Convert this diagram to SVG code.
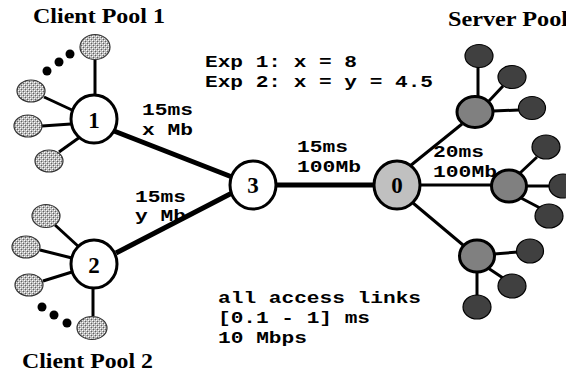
<svg xmlns="http://www.w3.org/2000/svg" width="566" height="375" viewBox="0 0 566 375">
<defs>
<pattern id="hatch" width="4" height="4" patternUnits="userSpaceOnUse">
<rect width="4" height="4" fill="#b4b4b4"/>
<rect x="0" y="0" width="1" height="1" fill="#ffffff"/>
<rect x="2" y="2" width="1" height="1" fill="#ffffff"/>
<rect x="1" y="1" width="1" height="1" fill="#606060"/>
<rect x="3" y="3" width="1" height="1" fill="#606060"/>
<rect x="2" y="0" width="1" height="1" fill="#e0e0e0"/>
<rect x="0" y="2" width="1" height="1" fill="#e0e0e0"/>
</pattern>
<style>
.acc{stroke:#000;stroke-width:3;fill:none}
.core{stroke:#000;stroke-width:5;fill:none}
.node{fill:#fff;stroke:#000;stroke-width:3}
.cli{fill:url(#hatch);stroke:#333;stroke-width:1.2}
.rtr{fill:#808080;stroke:#000;stroke-width:3}
.srv{fill:#404040;stroke:#000;stroke-width:1.2}
.dot{fill:#000}
.num{font-family:"Liberation Serif","Times New Roman",serif;font-weight:bold;font-size:23px;text-anchor:middle}
.title{font-family:"Liberation Serif","Times New Roman",serif;font-weight:bold;font-size:20px}
.mono{font-family:"Liberation Mono","Courier New",monospace;font-weight:bold;font-size:16px}
</style>
</defs>
<g id="connectors">
<line class="core" x1="114" y1="131" x2="232" y2="177"/>
<line class="core" x1="116" y1="253" x2="232" y2="193"/>
<line class="core" x1="276" y1="185" x2="374" y2="185"/>
<line class="acc" x1="95" y1="60" x2="95" y2="96"/>
<line class="acc" x1="44" y1="97" x2="72" y2="110"/>
<line class="acc" x1="42" y1="126" x2="71" y2="124"/>
<line class="acc" x1="59" y1="152" x2="80" y2="137"/>
<line class="acc" x1="55" y1="225" x2="79" y2="247"/>
<line class="acc" x1="40" y1="250" x2="72" y2="258"/>
<line class="acc" x1="43" y1="281" x2="72" y2="272"/>
<line class="acc" x1="93" y1="289" x2="93" y2="316"/>
<line class="acc" x1="410" y1="166" x2="462" y2="124"/>
<line class="acc" x1="419" y1="185" x2="492" y2="185"/>
<line class="acc" x1="413" y1="203" x2="463" y2="245"/>
<line class="acc" x1="478" y1="67" x2="478" y2="97"/>
<line class="acc" x1="489" y1="101" x2="503" y2="86"/>
<line class="acc" x1="493" y1="111" x2="519" y2="110"/>
<line class="acc" x1="520" y1="173" x2="537" y2="157"/>
<line class="acc" x1="526" y1="186" x2="550" y2="186"/>
<line class="acc" x1="521" y1="198" x2="540" y2="208"/>
<line class="acc" x1="494" y1="254" x2="518" y2="252"/>
<line class="acc" x1="488" y1="268" x2="503" y2="278"/>
<line class="acc" x1="477" y1="272" x2="477" y2="296"/>
</g>
<g id="pool1-clients">
<ellipse class="cli" cx="95" cy="47" rx="15" ry="12.5"/>
<ellipse class="cli" cx="31" cy="91" rx="14" ry="11"/>
<ellipse class="cli" cx="28" cy="126" rx="14" ry="11"/>
<ellipse class="cli" cx="49" cy="161" rx="14" ry="11"/>
<circle class="dot" cx="47" cy="71" r="4.5"/>
<circle class="dot" cx="59" cy="62" r="4.5"/>
<circle class="dot" cx="70" cy="54" r="4.5"/>
</g>
<g id="pool2-clients">
<ellipse class="cli" cx="46" cy="216" rx="14" ry="11.5"/>
<ellipse class="cli" cx="26" cy="247" rx="14" ry="11"/>
<ellipse class="cli" cx="29" cy="285" rx="14" ry="11"/>
<ellipse class="cli" cx="92" cy="328" rx="15" ry="11.5"/>
<circle class="dot" cx="42" cy="307" r="4.5"/>
<circle class="dot" cx="54" cy="315" r="4.5"/>
<circle class="dot" cx="67" cy="323" r="4.5"/>
</g>
<g id="node1">
<ellipse class="node" cx="94" cy="119" rx="23" ry="24"/>
<text class="num" x="94" y="128">1</text>
</g>
<g id="node2">
<ellipse class="node" cx="94" cy="264" rx="23" ry="24"/>
<text class="num" x="94" y="273">2</text>
</g>
<g id="node3">
<ellipse class="node" cx="253" cy="185" rx="23" ry="24"/>
<text class="num" x="253" y="193">3</text>
</g>
<g id="node0">
<ellipse class="node" cx="397" cy="185" rx="23" ry="24" style="fill:#c0c0c0"/>
<text class="num" x="397" y="193">0</text>
</g>
<g id="server-upper">
<ellipse class="srv" cx="479" cy="56" rx="14" ry="11.5"/>
<ellipse class="srv" cx="512" cy="77" rx="14" ry="11.5"/>
<ellipse class="srv" cx="532" cy="108" rx="13.5" ry="11.5"/>
<ellipse class="rtr" cx="475" cy="112" rx="18" ry="15.5"/>
</g>
<g id="server-middle">
<ellipse class="srv" cx="546" cy="147" rx="14" ry="12"/>
<ellipse class="srv" cx="563" cy="186" rx="14" ry="12"/>
<ellipse class="srv" cx="549" cy="216" rx="14" ry="12"/>
<ellipse class="rtr" cx="509" cy="186" rx="17.5" ry="16"/>
</g>
<g id="server-lower">
<ellipse class="srv" cx="530" cy="251" rx="13.5" ry="12"/>
<ellipse class="srv" cx="512" cy="286" rx="14" ry="12"/>
<ellipse class="srv" cx="477" cy="307" rx="14" ry="12"/>
<ellipse class="rtr" cx="477" cy="256" rx="17.5" ry="16"/>
</g>
<g id="labels">
<text class="title" x="33" y="23" textLength="132" lengthAdjust="spacingAndGlyphs">Client Pool 1</text>
<text class="title" x="22" y="368" textLength="131" lengthAdjust="spacingAndGlyphs">Client Pool 2</text>
<text class="title" x="448" y="26" textLength="120" lengthAdjust="spacingAndGlyphs">Server Pool</text>
<text class="mono" x="205" y="67" textLength="152" lengthAdjust="spacingAndGlyphs">Exp 1: x = 8</text>
<text class="mono" x="205" y="87" textLength="228" lengthAdjust="spacingAndGlyphs">Exp 2: x = y = 4.5</text>
<text class="mono" x="142" y="115" textLength="51" lengthAdjust="spacingAndGlyphs">15ms</text>
<text class="mono" x="142" y="135" textLength="51" lengthAdjust="spacingAndGlyphs">x Mb</text>
<text class="mono" x="135" y="202" textLength="51" lengthAdjust="spacingAndGlyphs">15ms</text>
<text class="mono" x="135" y="221" textLength="51" lengthAdjust="spacingAndGlyphs">y Mb</text>
<text class="mono" x="297" y="152" textLength="51" lengthAdjust="spacingAndGlyphs">15ms</text>
<text class="mono" x="297" y="172" textLength="64" lengthAdjust="spacingAndGlyphs">100Mb</text>
<text class="mono" x="433" y="157" textLength="51" lengthAdjust="spacingAndGlyphs">20ms</text>
<text class="mono" x="433" y="177" textLength="64" lengthAdjust="spacingAndGlyphs">100Mb</text>
<text class="mono" x="218" y="303" textLength="203" lengthAdjust="spacingAndGlyphs">all access links</text>
<text class="mono" x="218" y="323" textLength="152" lengthAdjust="spacingAndGlyphs">[0.1 - 1] ms</text>
<text class="mono" x="218" y="343" textLength="89" lengthAdjust="spacingAndGlyphs">10 Mbps</text>
</g>
</svg>
